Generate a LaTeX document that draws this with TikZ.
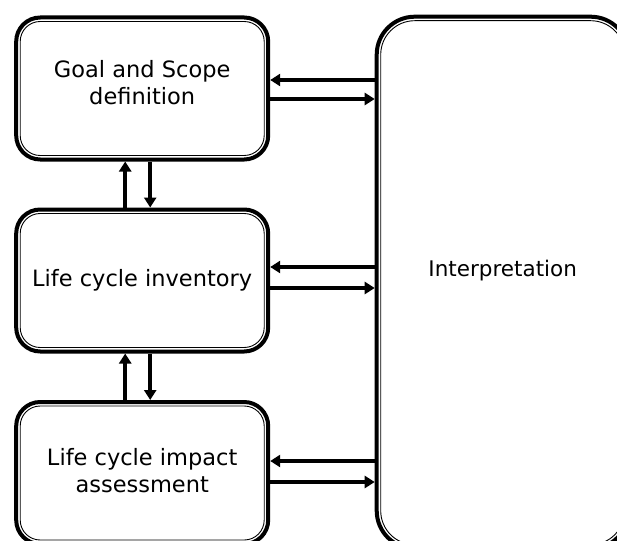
\documentclass[tikz,border=0pt]{standalone}
\usepackage{fontspec}
\setmainfont{DejaVu Sans}
\usetikzlibrary{arrows.meta}
\begin{document}
\begin{tikzpicture}[x=1pt,y=-1pt,
  stage/.style={draw, line width=4pt, rounded corners=24pt, fill=white,
    minimum width=252pt, minimum height=142pt, inner sep=0pt, align=center,
    font=\fontsize{22.5}{27.5}\selectfont,
    path picture={\draw[line width=0.9pt, rounded corners=20pt]
      ([shift={(4pt,-4pt)}]path picture bounding box.north west) rectangle
      ([shift={(-4pt,4pt)}]path picture bounding box.south east);}},
  bigstage/.style={stage, rounded corners=38pt, minimum width=252pt, minimum height=532pt,
    path picture={\draw[line width=0.9pt, rounded corners=34pt]
      ([shift={(4pt,-4pt)}]path picture bounding box.north west) rectangle
      ([shift={(-4pt,4pt)}]path picture bounding box.south east);}},
  arr/.style={line width=3.6pt, -{Triangle[length=10pt,width=12pt]}}]
\useasboundingbox (0,0) rectangle (617,540);
\clip (0,0) rectangle (617,540);
\fill[white] (0,0) rectangle (617,540);

\node[stage] (g) at (142.2,88.5) {Goal and Scope\\definition\\[-15pt]\mbox{}};
\node[stage] (i) at (142.2,280.5) {Life cycle inventory};
\node[stage] (a) at (142.2,473) {Life cycle impact\\assessment\\[-22pt]\mbox{}};
\node[bigstage, label={[yshift=12pt,font=\fontsize{21.5}{26}\selectfont]center:Interpretation}] (p) at (502.7,282.7) {};

% horizontal connectors
\path ([yshift=8.5pt]g.east) coordinate (g1) ([yshift=-10.5pt]g.east) coordinate (g2);
\path ([yshift=13.5pt]i.east) coordinate (i1) ([yshift=-7.5pt]i.east) coordinate (i2);
\path ([yshift=12pt]a.east) coordinate (a1) ([yshift=-9pt]a.east) coordinate (a2);
\draw[arr] (g1 -| p.west) -- (g1);
\draw[arr] (g2) -- (g2 -| p.west);
\draw[arr] (i1 -| p.west) -- (i1);
\draw[arr] (i2) -- (i2 -| p.west);
\draw[arr] (a1 -| p.west) -- (a1);
\draw[arr] (a2) -- (a2 -| p.west);

% vertical connectors
\path ([xshift=-17pt]i.north) coordinate (iu) ([xshift=8pt]g.south) coordinate (gd);
\path ([xshift=-17pt]a.north) coordinate (au) ([xshift=8pt]i.south) coordinate (id);
\draw[arr] (iu) -- (iu |- g.south);
\draw[arr] (gd) -- (gd |- i.north);
\draw[arr] (au) -- (au |- i.south);
\draw[arr] (id) -- (id |- a.north);
\end{tikzpicture}
\end{document}
